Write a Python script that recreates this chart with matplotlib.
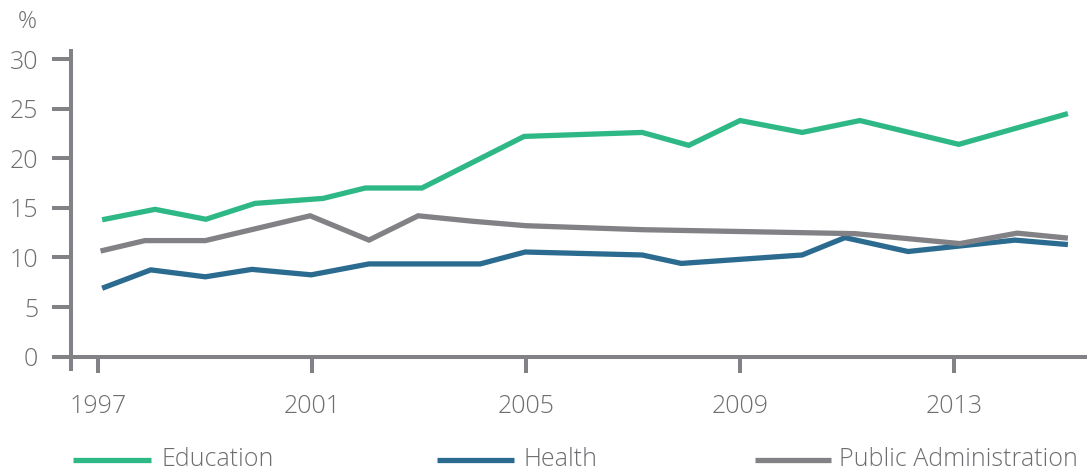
import matplotlib
matplotlib.use("Agg")
import matplotlib.pyplot as plt
from matplotlib.lines import Line2D

plt.rcParams['font.family'] = ['Open Sans', 'DejaVu Sans']
plt.rcParams['font.weight'] = 'light'

# ---- data ----
edu_x = [1997.07, 1998.06, 1999.01, 1999.93, 2001.2, 2001.99, 2003.05, 2004.96,
         2007.17, 2008.04, 2009.0, 2010.16, 2011.24, 2013.09, 2015.13]
edu_y = [13.8, 14.85, 13.85, 15.45, 15.95, 17.0, 17.0, 22.2,
         22.6, 21.3, 23.8, 22.6, 23.8, 21.4, 24.5]

health_x = [1997.07, 1997.98, 1999.0, 1999.87, 2000.98, 2002.06, 2004.14, 2004.98,
            2007.17, 2007.9, 2010.16, 2010.96, 2012.14, 2014.14, 2015.13]
health_y = [6.9, 8.75, 8.05, 8.8, 8.25, 9.35, 9.35, 10.55,
            10.25, 9.4, 10.25, 12.0, 10.6, 11.75, 11.3]

pa_x = [1997.04, 1997.87, 1999.0, 2000.96, 2002.06, 2002.98, 2004.0, 2005.0,
        2007.17, 2011.15, 2013.11, 2014.18, 2015.13]
pa_y = [10.65, 11.7, 11.7, 14.2, 11.75, 14.2, 13.65, 13.2,
        12.8, 12.4, 11.4, 12.45, 11.95]

series_names = ["Education", "Health", "Public Administration"]
series_colors = ["#2EB886", "#2C6B90", "#828286"]

x_ticks = [1997, 2001, 2005, 2009, 2013]
y_ticks = [0, 5, 10, 15, 20, 25, 30]

# ---- layout ----
W, H = 1089, 475
fig = plt.figure(figsize=(W / 100, H / 100), dpi=100)

slope = 53.475          # px per year
x_ref_px, x_ref_year = 526.2, 2005
px_per_unit = 9.923
y0_px = 356.7

left_px, right_px = 71, 1087
top_px = 49
xmin = x_ref_year + (left_px - x_ref_px) / slope
xmax = x_ref_year + (right_px - x_ref_px) / slope
ymax = (y0_px - top_px) / px_per_unit

ax = fig.add_axes([left_px / W, 1 - y0_px / H, (right_px - left_px) / W, (y0_px - top_px) / H])
ax.set_xlim(xmin, xmax)
ax.set_ylim(0, ymax)
for s in ax.spines.values():
    s.set_visible(False)

axis_col = "#828286"
text_col = "#6D6E71"
aw = 2.9
fs = 18

# axis lines
x_axis_start = x_ref_year + (52 - x_ref_px) / slope
ax.plot([x_axis_start, xmax], [0, 0], color=axis_col, lw=aw, clip_on=False,
        solid_capstyle='butt', zorder=1)
ax.plot([xmin, xmin], [(y0_px - 371) / px_per_unit, ymax], color=axis_col, lw=aw,
        clip_on=False, solid_capstyle='butt', zorder=1)

ax.set_xticks(x_ticks)
ax.set_xticklabels([str(t) for t in x_ticks])
ax.set_yticks(y_ticks)
ax.set_yticklabels([str(t) for t in y_ticks])
ax.tick_params(axis='y', direction='out', length=13.7, width=aw, color=axis_col,
               pad=10, labelsize=fs, labelcolor=text_col)
ax.tick_params(axis='x', direction='out', length=11.7, width=aw, color=axis_col,
               pad=15, labelsize=fs, labelcolor=text_col)

# series
data = [(edu_x, edu_y), (health_x, health_y), (pa_x, pa_y)]
for (xs, ys), name, col in zip(data, series_names, series_colors):
    ax.plot(xs, ys, color=col, lw=3.8, solid_joinstyle='miter', solid_capstyle='butt',
            label=name, zorder=3, clip_on=False)

# % label
fig.text(27 / W, 1 - 22 / H, "%", ha='center', va='center', fontsize=17, color=text_col)

# legend (manual)
leg_y = 1 - 460 / H
leg_lines = [(73, 151, 161), (437, 514, 523), (755, 831, 839)]
for (x0, x1, tx), name, col in zip(leg_lines, series_names, series_colors):
    fig.add_artist(Line2D([x0 / W, x1 / W], [leg_y, leg_y], color=col, lw=3.8,
                          solid_capstyle='butt'))
    fig.text(tx / W, leg_y, name, ha='left', va='center', fontsize=fs, color=text_col)

fig.savefig("out.png", dpi=100)
